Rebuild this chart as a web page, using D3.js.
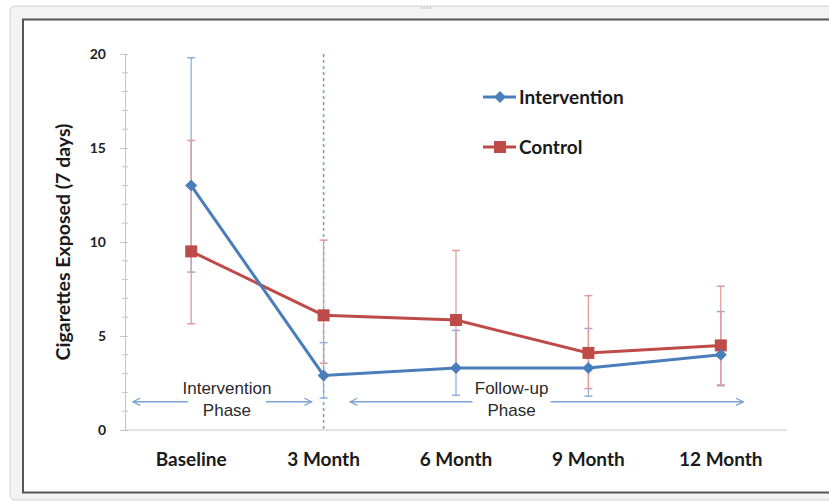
<!DOCTYPE html>
<html>
<head>
<meta charset="utf-8">
<script src="https://cdn.jsdelivr.net/npm/d3@7"></script>
<style>
  html, body { margin: 0; padding: 0; background: #fff; }
  svg { display: block; }
</style>
</head>
<body>
<div id="chart"></div>
<script>
// chart values
const categories = ['Baseline', '3 Month', '6 Month', '9 Month', '12 Month'];
const interventionMean = [13.0, 2.9, 3.3, 3.3, 4.0];
const interventionLow = [8.4, 1.7, 1.85, 1.8, 2.35];
const interventionHigh = [19.8, 4.65, 5.3, 5.4, 6.3];
const controlMean = [9.5, 6.1, 5.85, 4.1, 4.5];
const controlLow = [5.65, 3.55, 3.3, 2.2, 2.4];
const controlHigh = [15.4, 10.1, 9.55, 7.15, 7.65];
const yTicks = [0, 5, 10, 15, 20];
const yMinorTicks = d3.range(0, 21, 1);
const phases = [
  { lines: ['Intervention', 'Phase'], from: -0.44, to: 0.91, center: 0.27, level: 1.5 },
  { lines: ['Follow-up', 'Phase'], from: 1.2, to: 4.17, center: 2.42, level: 1.5 }
];
const boundary = '3 Month'; // dashed line between the phases

const width = 829, height = 503;
const margin = { top: 54, right: 42, bottom: 73, left: 125 };
const blue = '#4a7ebb', red = '#be4b48';
const boldFont = 'Lato, "Open Sans", sans-serif';

const svg = d3.select('#chart').append('svg')
  .attr('width', width)
  .attr('height', height);

// window frame
svg.append('rect')
  .attr('x', 10).attr('y', 6)
  .attr('width', 840).attr('height', 494)
  .attr('rx', 5)
  .attr('fill', '#f3f3f3')
  .attr('stroke', '#d0d0d0');
svg.append('rect')
  .attr('x', 23).attr('y', 19.5)
  .attr('width', 830).attr('height', 473)
  .attr('fill', '#fff')
  .attr('stroke', '#555')
  .attr('stroke-width', 2);
svg.append('g').selectAll('circle')
  .data(d3.range(4))
  .enter().append('circle')
  .attr('cx', d => 421 + d * 3)
  .attr('cy', 8)
  .attr('r', 0.8)
  .attr('fill', '#aaa');

const x = d3.scalePoint()
  .domain(categories)
  .range([margin.left, width - margin.right])
  .padding(0.5);
const step = x.step();
const xAt = v => x(categories[0]) + v * step; // fractional category position

const y = d3.scaleLinear()
  .domain([0, 20])
  .range([height - margin.bottom, margin.top]);

const axisColor = '#c4c4c4';

// y axis
const yAxis = svg.append('g')
  .attr('transform', `translate(${margin.left},0)`)
  .call(d3.axisLeft(y).tickValues(yTicks).tickSize(5).tickPadding(14).tickSizeOuter(0));
yAxis.select('.domain').attr('stroke', axisColor);
yAxis.selectAll('.tick line').attr('stroke', axisColor).attr('x2', 3).attr('x1', -5);
yAxis.selectAll('.tick text')
  .attr('fill', '#222')
  .style('font-family', boldFont)
  .style('font-weight', 'bold')
  .style('font-size', '14px');

svg.append('g').selectAll('line')
  .data(yMinorTicks.filter(d => !yTicks.includes(d)))
  .enter().append('line')
  .attr('x1', margin.left - 3)
  .attr('x2', margin.left + 3)
  .attr('y1', d => y(d))
  .attr('y2', d => y(d))
  .attr('stroke', axisColor);

// x axis
svg.append('line')
  .attr('x1', margin.left)
  .attr('x2', width - margin.right)
  .attr('y1', y(0))
  .attr('y2', y(0))
  .attr('stroke', axisColor);

svg.append('g').selectAll('text')
  .data(categories)
  .enter().append('text')
  .attr('x', d => x(d))
  .attr('y', y(0) + 36)
  .attr('text-anchor', 'middle')
  .attr('fill', '#1a1a1a')
  .style('font-family', boldFont)
  .style('font-weight', 'bold')
  .style('font-size', '19px')
  .text(d => d);

// y axis title
svg.append('text')
  .attr('transform', `translate(70,${y(10)}) rotate(-90)`)
  .attr('text-anchor', 'middle')
  .attr('fill', '#1a1a1a')
  .style('font-family', boldFont)
  .style('font-weight', 'bold')
  .style('font-size', '19.5px')
  .text('Cigarettes Exposed (7 days)');

// phase boundary
svg.append('line')
  .attr('x1', x(boundary))
  .attr('x2', x(boundary))
  .attr('y1', y(20))
  .attr('y2', y(0))
  .attr('stroke', '#6f9bd1')
  .attr('stroke-width', 1.5)
  .attr('stroke-dasharray', '3,3');

// phase annotations
const defs = svg.append('defs');
defs.append('marker')
  .attr('id', 'arrow')
  .attr('viewBox', '0 0 10 10')
  .attr('refX', 9).attr('refY', 5)
  .attr('markerWidth', 9).attr('markerHeight', 9)
  .attr('markerUnits', 'userSpaceOnUse')
  .attr('orient', 'auto')
  .append('path')
  .attr('d', 'M1,1 L9,5 L1,9')
  .attr('fill', 'none')
  .attr('stroke', '#7aa2d4')
  .attr('stroke-width', 1.4);

phases.forEach(p => {
  const cx = xAt(p.center);
  const ly = y(p.level);
  const g = svg.append('g');
  g.append('text')
    .attr('x', cx).attr('y', ly - 8)
    .attr('text-anchor', 'middle')
    .attr('fill', '#2a2a2a')
    .style('font-family', '"Liberation Sans", Arial, sans-serif')
    .style('font-size', '17px')
    .text(p.lines[0]);
  const t2 = g.append('text')
    .attr('x', cx).attr('y', ly + 14)
    .attr('text-anchor', 'middle')
    .attr('fill', '#2a2a2a')
    .style('font-family', '"Liberation Sans", Arial, sans-serif')
    .style('font-size', '17px')
    .text(p.lines[1]);
  const bb = t2.node().getBBox();
  const gap = 15;
  [[bb.x - gap, xAt(p.from)], [bb.x + bb.width + gap, xAt(p.to)]].forEach(([a, b]) => {
    g.append('line')
      .attr('x1', a).attr('x2', b)
      .attr('y1', ly).attr('y2', ly)
      .attr('stroke', '#7aa2d4')
      .attr('stroke-width', 1.4)
      .attr('marker-end', 'url(#arrow)');
  });
});

// series
const series = [
  { name: 'Intervention', mean: interventionMean, low: interventionLow, high: interventionHigh, color: blue, bar: '#8fb0dc', shape: 'diamond' },
  { name: 'Control', mean: controlMean, low: controlLow, high: controlHigh, color: red, bar: '#e39a98', shape: 'square' }
];

function drawMarker(g, shape, color, cx, cy) {
  if (shape === 'diamond') {
    g.append('path')
      .attr('d', `M${cx},${cy - 6}L${cx + 6},${cy}L${cx},${cy + 6}L${cx - 6},${cy}Z`)
      .attr('fill', color);
  } else {
    g.append('rect')
      .attr('x', cx - 6).attr('y', cy - 6)
      .attr('width', 12).attr('height', 12)
      .attr('fill', color);
  }
}

// error bars first so the lines sit on top
series.forEach(s => {
  const g = svg.append('g').attr('class', 'errbars');
  categories.forEach((c, i) => {
    const cx = x(c);
    g.append('line')
      .attr('x1', cx).attr('x2', cx)
      .attr('y1', y(s.low[i])).attr('y2', y(s.high[i]))
      .attr('stroke', s.bar).attr('stroke-width', 1.3);
    [s.low[i], s.high[i]].forEach(v => {
      g.append('line')
        .attr('x1', cx - 4).attr('x2', cx + 4)
        .attr('y1', y(v)).attr('y2', y(v))
        .attr('stroke', s.bar).attr('stroke-width', 1.5);
    });
  });
});

const line = d3.line()
  .x((d, i) => x(categories[i]))
  .y(d => y(d));

// control underneath, intervention on top
[series[1], series[0]].forEach(s => {
  const g = svg.append('g');
  g.append('path')
    .datum(s.mean)
    .attr('d', line)
    .attr('fill', 'none')
    .attr('stroke', s.color)
    .attr('stroke-width', 3);
  s.mean.forEach((v, i) => drawMarker(g, s.shape, s.color, x(categories[i]), y(v)));
});

// legend
const legend = svg.append('g');
series.forEach((s, i) => {
  const ly = 97 + i * 50;
  legend.append('line')
    .attr('x1', 483).attr('x2', 516)
    .attr('y1', ly).attr('y2', ly)
    .attr('stroke', s.color)
    .attr('stroke-width', 3);
  drawMarker(legend, s.shape, s.color, 500, ly);
  legend.append('text')
    .attr('x', 519).attr('y', ly)
    .attr('dy', '0.35em')
    .attr('fill', '#1a1a1a')
    .style('font-family', boldFont)
    .style('font-weight', 'bold')
    .style('font-size', '19px')
    .text(s.name);
});
</script>
</body>
</html>
